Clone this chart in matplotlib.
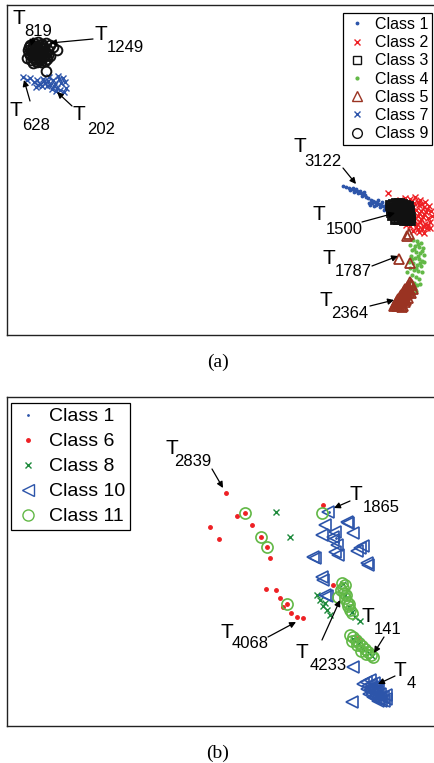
"""
Two-panel embedding scatter (a) / (b) with labelled trajectories T_n.
Coordinates are read off the reference in panel pixel units (y grows down).
"""
import numpy as np
import matplotlib
matplotlib.use("Agg")
import matplotlib.pyplot as plt

plt.rcParams["font.family"] = ["Liberation Sans", "DejaVu Sans"]

W, H = 435, 763
BLUE, RED, BLACK = "#2d55aa", "#ee2024", "#111111"
LGREEN, DGREEN, BROWN = "#62b846", "#1e8a3c", "#9a3322"

# ---------------- panel (a) data ----------------
a_class1 = [(343, 186), (346, 187), (349, 188), (352, 189), (355, 190), (357, 191), (359, 192),
            (361, 193), (363, 194), (365, 195), (353, 188), (356, 189), (360, 191), (350, 190),
            (362, 196), (358, 193), (368, 198), (371, 200), (373, 201), (375, 202), (377, 203),
            (379, 204), (381, 205), (383, 206), (385, 207), (387, 208), (389, 209), (376, 205),
            (380, 207), (384, 210), (372, 203), (378, 200), (382, 202), (386, 204), (388, 212),
            (374, 206), (370, 205), (366, 197), (369, 203), (390, 206), (354, 192), (364, 192)]
a_class2 = [(400, 200), (405, 198), (410, 199), (415, 197), (420, 200), (425, 202), (402, 205),
            (408, 204), (414, 203), (419, 205), (424, 207), (429, 206), (404, 210), (410, 209),
            (416, 210), (421, 211), (426, 212), (431, 211), (406, 215), (412, 214), (418, 216),
            (423, 217), (428, 218), (432, 216), (408, 221), (414, 220), (420, 222), (425, 224),
            (430, 222), (410, 226), (416, 227), (422, 229), (427, 228), (413, 231), (419, 232),
            (424, 233), (398, 212), (400, 218), (403, 222), (430, 228), (412, 201), (418, 202),
            (422, 204), (407, 207), (413, 207), (427, 209), (409, 212), (419, 213), (424, 214),
            (415, 218), (410, 218), (421, 219), (417, 224), (423, 226), (428, 225), (412, 223),
            (406, 225), (418, 229), (388, 193)]
a_class3 = [(390, 205), (393, 204), (396, 203), (399, 203), (402, 204), (405, 205), (408, 206),
            (391, 208), (394, 208), (397, 207), (400, 207), (403, 208), (406, 209), (409, 210),
            (391, 212), (394, 211), (397, 211), (400, 211), (403, 212), (406, 213), (409, 214),
            (392, 215), (395, 215), (398, 215), (401, 215), (404, 216), (407, 217), (410, 217),
            (395, 219), (398, 219), (401, 219), (404, 220), (407, 220), (410, 220)]
a_class4 = [(413, 240), (417, 241), (421, 243), (410, 245), (415, 246), (419, 247), (423, 248),
            (412, 250), (416, 252), (420, 253), (424, 255), (411, 256), (415, 258), (419, 259),
            (422, 261), (413, 263), (417, 265), (421, 266), (410, 268), (414, 270), (418, 271),
            (422, 272), (412, 275), (416, 277), (419, 279), (410, 281), (414, 283), (417, 285),
            (412, 288), (416, 291), (408, 290), (420, 284), (424, 262), (409, 262), (407, 272),
            (418, 244), (414, 249), (422, 251), (418, 256), (412, 259), (420, 263), (416, 268)]
a_class5 = [(409, 234), (399, 259), (410, 263), (407, 236), (410, 282), (412, 285), (408, 286),
            (405, 289), (410, 290), (403, 293), (407, 294), (411, 293), (400, 297), (404, 298),
            (408, 298), (397, 301), (401, 302), (405, 302), (395, 305), (399, 306), (403, 306),
            (409, 288), (413, 289), (406, 291), (402, 296), (398, 303), (394, 306), (406, 300),
            (400, 300), (411, 284), (407, 288), (404, 291), (409, 292), (401, 295), (405, 296),
            (398, 299), (403, 300), (396, 303), (401, 304), (397, 306), (402, 307)]
a_class7 = [(23, 77), (27, 80), (30, 78), (34, 82), (37, 80), (40, 84), (43, 79), (45, 83),
            (48, 81), (50, 85), (53, 80), (55, 84), (57, 88), (59, 79), (61, 83), (63, 78),
            (65, 82), (52, 89), (56, 91), (60, 90), (64, 92), (47, 86), (42, 86), (38, 85),
            (36, 87), (58, 76), (49, 77), (66, 88), (44, 81), (54, 86)]
a_class9 = [(30, 45), (34, 43), (38, 42), (42, 44), (46, 43), (50, 45), (28, 50), (32, 49),
            (36, 48), (40, 47), (44, 48), (48, 50), (30, 55), (34, 54), (38, 53), (42, 52),
            (46, 54), (27, 58), (31, 60), (35, 59), (39, 58), (43, 57), (47, 59), (33, 63),
            (37, 62), (41, 62), (45, 61), (36, 46), (40, 51), (44, 56), (38, 57), (32, 52),
            (48, 55), (29, 47), (33, 46), (39, 45), (43, 46), (35, 51), (41, 55), (37, 55),
            (29, 53), (33, 57), (45, 51), (40, 60), (36, 61), (53, 47), (57, 50), (46, 71), (50, 56)]

# label number, T centre, subscript centre, arrow tail, arrow head
a_notes = [("819", (19, 18), (38, 31), (33, 38), (31, 46)),
           ("1249", (101, 34), (125, 47), (93, 39), (50, 43)),
           ("628", (16, 110), (36, 126), (30, 101), (24, 80)),
           ("202", (79, 115), (101, 129), (72, 106), (57, 92)),
           ("3122", (300, 147), (323, 161), (343, 168), (356, 184)),
           ("1500", (319, 215), (344, 229), (362, 222), (395, 213)),
           ("1787", (329, 259), (353, 272), (372, 266), (398, 256)),
           ("2364", (326, 300), (350, 313), (370, 306), (394, 300))]

# ---------------- panel (b) data ----------------
b_class1 = [(329, 512), (336, 538), (366, 690), (372, 692), (378, 695)]
b_class6 = [(226, 493), (237, 516), (245, 513), (252, 525), (210, 527), (219, 539), (261, 537),
            (267, 547), (270, 558), (323, 505), (333, 585), (266, 589), (276, 590), (280, 598),
            (287, 604), (283, 607), (291, 613), (297, 617), (303, 618), (358, 638)]
b_class8 = [(276, 512), (290, 537), (317, 595), (320, 600), (323, 606), (327, 610), (330, 615),
            (325, 603), (343, 584), (345, 595), (349, 607), (352, 612), (355, 617), (360, 621),
            (353, 639), (358, 644), (363, 649), (369, 653), (372, 656)]
b_class10 = [(328, 512), (325, 525), (322, 535), (335, 532), (348, 523), (353, 533), (333, 540),
             (337, 545), (335, 552), (315, 558), (360, 548), (357, 551), (368, 565), (322, 577),
             (323, 580), (327, 596), (333, 537), (338, 555), (313, 557), (347, 522), (363, 546),
             (325, 595), (367, 563), (353, 667), (352, 702), (366, 682), (370, 680), (374, 683),
             (368, 686), (372, 687), (376, 686), (370, 690), (374, 691), (378, 690), (372, 694),
             (376, 695), (380, 694), (375, 698), (379, 699), (383, 697), (378, 701), (384, 701),
             (363, 684), (386, 695), (369, 694), (367, 689), (371, 684), (375, 688), (373, 697),
             (377, 692), (381, 697), (381, 701), (386, 699)]
b_class11 = [(245, 513), (261, 537), (267, 547), (322, 513), (287, 604), (342, 583), (343, 588),
             (344, 593), (345, 598), (347, 602), (348, 606), (350, 610), (352, 613), (341, 590),
             (346, 595), (349, 604), (338, 597), (345, 585), (350, 635), (353, 637), (356, 640),
             (359, 643), (362, 646), (365, 649), (368, 652), (371, 655), (373, 657), (352, 641),
             (357, 645), (361, 651), (366, 654)]

b_notes = [("2839", (172, 448), (193, 461), (212, 469), (223, 488)),
           ("1865", (356, 495), (381, 508), (350, 501), (334, 508)),
           ("4068", (227, 632), (250, 644), (268, 637), (296, 622)),
           ("4233", (302, 652), (328, 666), (322, 640), (340, 600)),
           ("141", (368, 617), (388, 629), (384, 637), (374, 653)),
           ("4", (400, 670), (411, 684), (395, 676), (378, 684))]


def pts(lst):
    arr = np.array(lst, dtype=float)
    return arr[:, 0], arr[:, 1]


def make_axes(fig, top, bottom, left=7, right=435):
    ax = fig.add_axes([left / W, 1 - bottom / H, (right - left) / W, (bottom - top) / H])
    ax.set_xlim(left, right)
    ax.set_ylim(bottom, top)
    ax.set_xticks([]); ax.set_yticks([])
    for s in ax.spines.values():
        s.set_linewidth(1.0); s.set_color("#222222")
    ax.spines["right"].set_visible(False)
    return ax


def annotate(ax, notes):
    for num, txy, sxy, tail, head in notes:
        ax.text(*txy, "T", fontsize=15, ha="center", va="center")
        ax.text(*sxy, num, fontsize=12, ha="center", va="center")
        ax.annotate("", xy=head, xytext=tail,
                    arrowprops=dict(arrowstyle="-|>", color="k", lw=0.9, mutation_scale=9,
                                    shrinkA=0, shrinkB=0))


fig = plt.figure(figsize=(W / 100, H / 100), dpi=100)

# ---- (a) ----
ax = make_axes(fig, 5, 335)
ax.plot(*pts(a_class1), ".", ms=3.5, color=BLUE, label="Class 1")
ax.plot(*pts(a_class2), "x", ms=5, mew=1.0, color=RED, label="Class 2")
ax.plot(*pts(a_class3), "s", ms=6, mfc="none", mew=2.0, color=BLACK, label="Class 3")
ax.plot(*pts(a_class4), ".", ms=4, color=LGREEN, label="Class 4")
ax.plot(*pts(a_class5), "^", ms=7, mfc="none", mew=1.3, color=BROWN, label="Class 5")
ax.plot(*pts(a_class7), "x", ms=5, mew=1.0, color=BLUE, label="Class 7")
ax.plot(*pts(a_class9), "o", ms=7, mfc="none", mew=1.4, color=BLACK, label="Class 9")
annotate(ax, a_notes)
leg = ax.legend(loc="upper right", bbox_to_anchor=((432 - 7) / 428, (335 - 13) / 330),
                borderaxespad=0, fontsize=11.5, fancybox=False, edgecolor="k", framealpha=1,
                handlelength=1.2, handletextpad=0.5, labelspacing=0.2, borderpad=0.25)
leg.get_frame().set_linewidth(0.9)
for h in leg.legend_handles:
    h.set_markeredgewidth(1.0)

fig.text(218 / W, 1 - 362 / H, "(a)", fontsize=14, family="Liberation Serif",
         ha="center", va="center")

# ---- (b) ----
ax = make_axes(fig, 397, 726)
ax.plot(*pts(b_class1), ".", ms=2, color=BLUE, label="Class 1")
ax.plot(*pts(b_class6), ".", ms=5, color=RED, label="Class 6")
ax.plot(*pts(b_class8), "x", ms=5, mew=1.0, color=DGREEN, label="Class 8")
ax.plot(*pts(b_class10), "<", ms=8, mfc="none", mew=1.2, color=BLUE, label="Class 10")
ax.plot(*pts(b_class11), "o", ms=8, mfc="none", mew=1.2, color=LGREEN, label="Class 11")
annotate(ax, b_notes)
leg = ax.legend(loc="upper left", bbox_to_anchor=((11 - 7) / 428, (726 - 403) / 329),
                borderaxespad=0, fontsize=14, fancybox=False, edgecolor="k", framealpha=1,
                handlelength=1.2, handletextpad=0.5, labelspacing=0.38, borderpad=0.25)
leg.get_frame().set_linewidth(0.9)
for h in leg.legend_handles:
    h.set_markeredgewidth(1.0)

fig.text(218 / W, 1 - 753 / H, "(b)", fontsize=14, family="Liberation Serif",
         ha="center", va="center")

fig.savefig("out.png", dpi=100)
